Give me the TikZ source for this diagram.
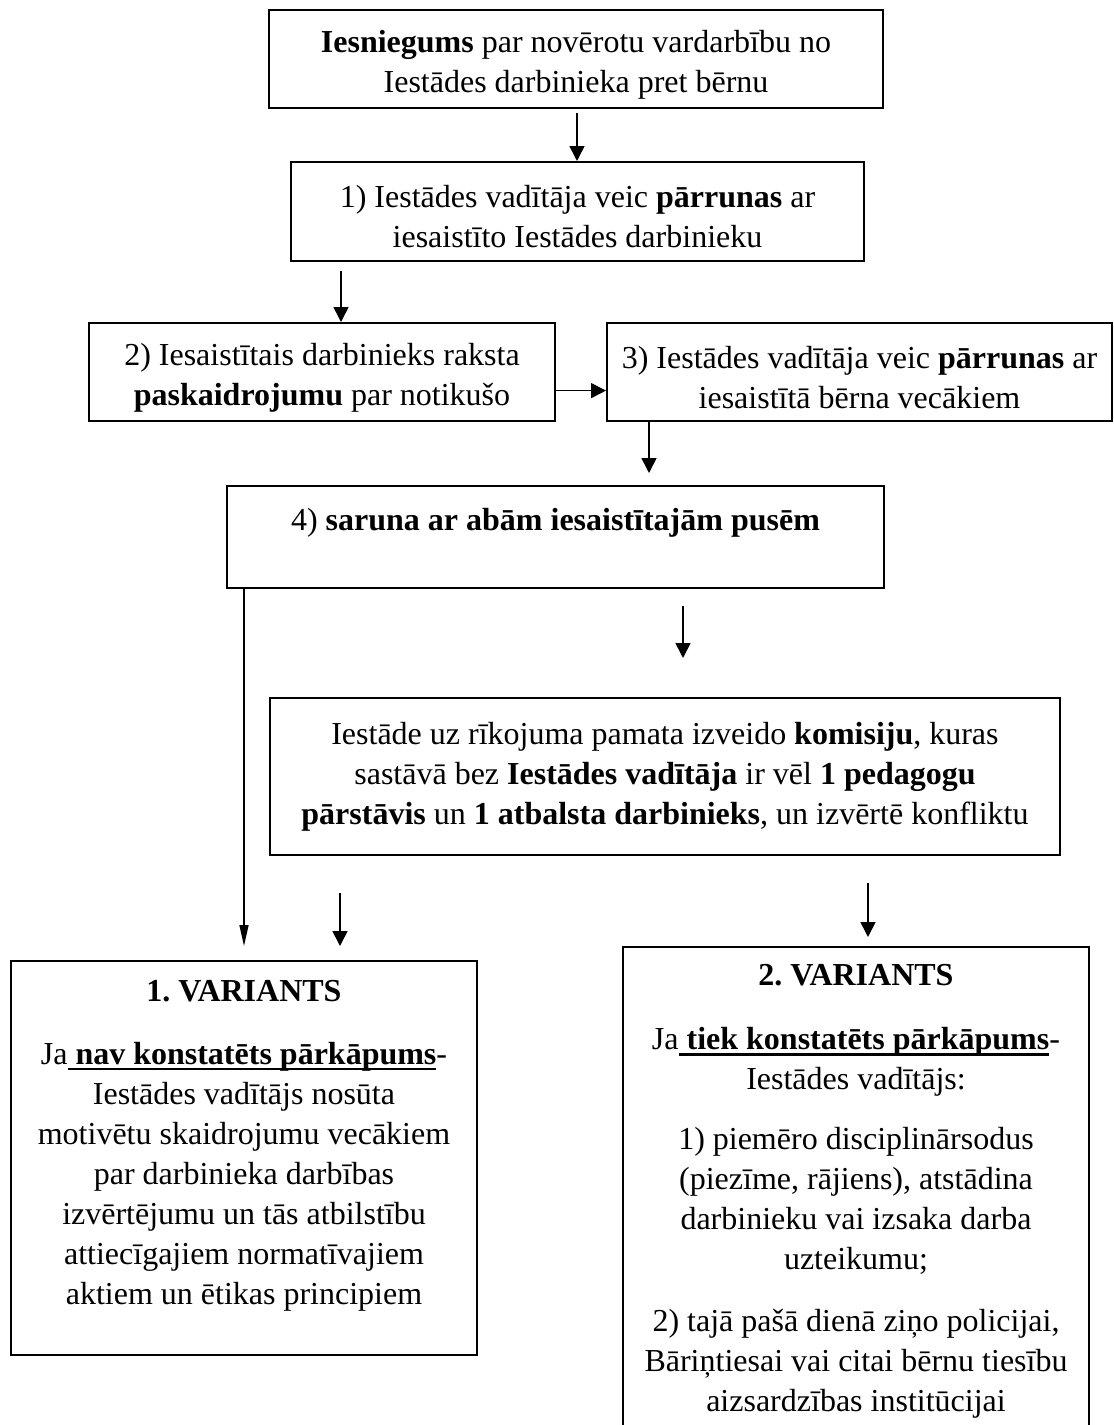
\documentclass[tikz,border=0pt]{standalone}
\usepackage{fontspec}
\setmainfont{Liberation Serif}
\usetikzlibrary{arrows.meta}
\frenchspacing
\newcommand\ulbold[1]{\setbox0\hbox{#1}\rlap{\rule[-3pt]{\wd0}{1.2pt}}\box0}
\newcommand\topgap{\rule{0pt}{16.5pt}}
\begin{document}
\begin{tikzpicture}[x=.5pt,y=-.5pt,>={Triangle[length=7.5pt,width=7.5pt]},font=\fontsize{16}{20}\selectfont,
  box/.style={draw,line width=1pt,align=center,inner sep=0pt},
  arr/.style={->,line width=.8pt}]
  \useasboundingbox (0,0) rectangle (1114,1425);
  \clip (0,0) rectangle (1114,1425);
  \node[box,minimum width=307pt,minimum height=49pt] (req) at (576,59) {\topgap\textbf{Iesniegums} par novērotu vardarbību no\\Iestādes darbinieka pret bērnu};
  \node[box,minimum width=286.5pt,minimum height=49.5pt] (talk1) at (577.5,211.5) {\topgap1) Iestādes vadītāja veic \textbf{pārrunas} ar\\iesaistīto Iestādes darbinieku};
  \node[box,minimum width=233pt,minimum height=49pt] (expl) at (322,372) {\topgap2) Iesaistītais darbinieks raksta\\\textbf{paskaidrojumu} par notikušo};
  \node[box,minimum width=252.5pt,minimum height=49pt] (talk3) at (859.5,372) {\topgap3) Iestādes vadītāja veic \textbf{pārrunas} ar\\iesaistītā bērna vecākiem};
  \node[box,minimum width=328.5pt,minimum height=51pt] (meet) at (555.5,537) {4) \textbf{saruna ar abām iesaistītajām pusēm}\\[-8pt]\strut};
  \node[box,minimum width=395pt,minimum height=78.5pt] (comm) at (665,776.5) {Iestāde uz rīkojuma pamata izveido \textbf{komisiju}, kuras\\sastāvā bez \textbf{Iestādes vadītāja} ir vēl \textbf{1 pedagogu}\\\textbf{pārstāvis} un \textbf{1 atbalsta darbinieks}, un izvērtē konfliktu};
  \node[box,minimum width=233pt,minimum height=197pt] (var1) at (244,1158) {\textbf{1. VARIANTS}\\[11.5pt]Ja\ulbold{\textbf{ nav konstatēts pārkāpums}}-\\Iestādes vadītājs nosūta\\motivētu skaidrojumu vecākiem\\par darbinieka darbības\\izvērtējumu un tās atbilstību\\attiecīgajiem normatīvajiem\\aktiem un ētikas principiem\\[-10pt]\strut};
  \node[box,minimum width=233pt,minimum height=245pt] (var2) at (856,1191.5) {\textbf{2. VARIANTS}\\[12pt]Ja\ulbold{\textbf{ tiek konstatēts pārkāpums}}-\\Iestādes vadītājs:\\[10pt]1) piemēro disciplinārsodus\\(piezīme, rājiens), atstādina\\darbinieku vai izsaka darba\\uzteikumu;\\[11pt]2) tajā pašā dienā ziņo policijai,\\Bāriņtiesai vai citai bērnu tiesību\\aizsardzības institūcijai};
  \coordinate (a1) at (577,113);
  \coordinate (b1) at (341,271);
  \coordinate (d1) at (649,473);
  \coordinate (e1) at (683,606);
  \coordinate (e2) at (683,658);
  \coordinate (l1) at (244,946);
  \coordinate (f1) at (340,893);
  \coordinate (f2) at (340,946);
  \coordinate (g1) at (868,883);
  \coordinate (g2) at (868,937);
  \draw[arr] (a1) -- (a1 |- talk1.north);
  \draw[arr] (b1) -- (b1 |- expl.north);
  \draw[arr] ([yshift=-9.3pt]expl.east) -- ([yshift=-9.3pt]talk3.west);
  \draw[arr] (d1 |- talk3.south) -- (d1);
  \draw[arr] (e1) -- (e2);
  \draw[line width=.8pt,-{Triangle[length=10.5pt,width=4.5pt]}] (l1 |- meet.south) -- (l1);
  \draw[arr] (f1) -- (f2);
  \draw[arr] (g1) -- (g2);
\end{tikzpicture}
\end{document}
